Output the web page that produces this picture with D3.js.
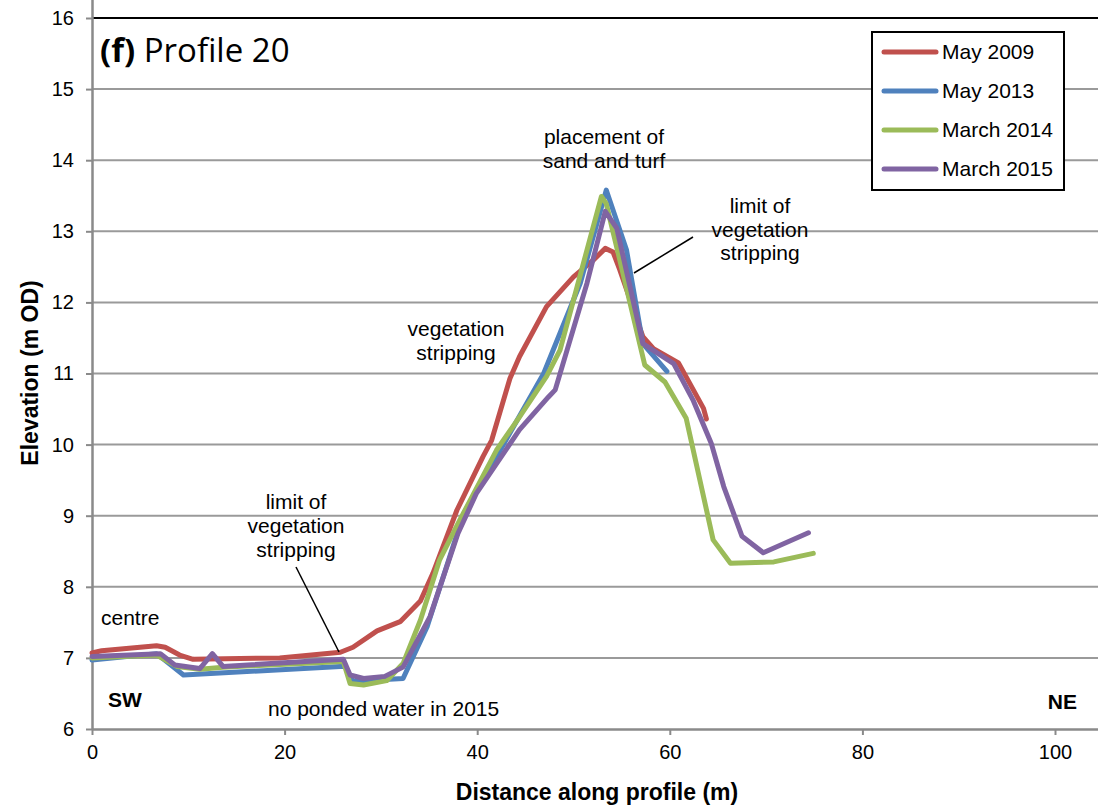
<!DOCTYPE html>
<html><head><meta charset="utf-8">
<script src="https://cdn.jsdelivr.net/npm/d3@7"></script>
<style>body{margin:0;background:#fff}svg{display:block}</style>
</head><body>
<svg id="c" width="1098" height="806"></svg>
<script>
const seriesNames = ["May 2009", "May 2013", "March 2014", "March 2015"];
const seriesColors = ["#C0504D", "#4F81BD", "#9BBB59", "#8064A2"];
const may2009 = [[0,7.07],[1,7.1],[6.7,7.17],[7.6,7.15],[9.1,7.04],[10.5,6.98],[19.5,7.0],[25.8,7.08],[27.1,7.15],[29.6,7.38],[32,7.51],[34.1,7.8],[35.4,8.19],[37.9,9.08],[40.6,9.83],[41.5,10.06],[43.4,10.93],[44.4,11.24],[47.2,11.94],[50,12.36],[52.1,12.6],[53.3,12.76],[54.1,12.71],[54.8,12.46],[57.2,11.52],[58.3,11.35],[60.9,11.15],[63.5,10.51],[63.8,10.36]];
const may2013 = [[0,6.97],[6.7,7.06],[9.5,6.76],[25.8,6.88],[26.3,6.88],[27.1,6.67],[32.3,6.71],[34.8,7.44],[38.6,9.03],[42,9.83],[46.9,11.0],[50.7,12.27],[53.4,13.58],[55.5,12.74],[57.2,11.42],[59.7,11.03]];
const march2014 = [[0,7.0],[6.7,7.04],[8.8,6.88],[11.2,6.84],[13.6,6.87],[26.1,6.95],[26.8,6.64],[28.2,6.62],[30.6,6.68],[32.3,6.92],[34.1,7.53],[36.1,8.38],[38.2,8.94],[42,9.92],[44.4,10.39],[47.2,10.96],[48.6,11.33],[52.9,13.49],[53.4,13.39],[54.8,12.6],[57.4,11.12],[59.5,10.88],[61.7,10.37],[64.5,8.66],[66.3,8.33],[70.8,8.35],[74.9,8.47]];
const march2015 = [[0,7.02],[7.1,7.06],[8.6,6.9],[11.2,6.85],[12.5,7.06],[13.6,6.88],[26.1,6.98],[26.8,6.76],[28.2,6.71],[30.4,6.74],[32.3,6.87],[35.1,7.58],[38.0,8.75],[39.9,9.31],[44.4,10.21],[47.4,10.67],[48.1,10.77],[51.4,12.27],[53.3,13.28],[54.5,13.04],[57.2,11.42],[60.4,11.14],[62.4,10.63],[64.3,10.02],[65.6,9.41],[67.5,8.71],[69.7,8.48],[74.4,8.76]];
const xTicks = [0,20,40,60,80,100];
const yTicks = [6,7,8,9,10,11,12,13,14,15,16];
const seriesData = [may2009, may2013, march2014, march2015];

const svg = d3.select("#c");
const x = d3.scaleLinear().domain([0,100]).range([92,1055]);
const y = d3.scaleLinear().domain([6,16]).range([729,18]);
const F = "Arial, 'Liberation Sans', sans-serif";

// gridlines
svg.append("g").selectAll("line").data(yTicks.filter(d=>d>6 && d<16)).join("line")
  .attr("x1",92).attr("x2",1098).attr("y1",d=>y(d)).attr("y2",d=>y(d))
  .attr("stroke","#9a9a9a").attr("stroke-width",2);
// top border
svg.append("line").attr("x1",92).attr("x2",1098).attr("y1",y(16)).attr("y2",y(16)).attr("stroke","#000").attr("stroke-width",2);

// axes
const yAxis = svg.append("g").attr("transform","translate(92,0)")
  .call(d3.axisLeft(y).tickValues(yTicks).tickSize(6).tickPadding(12).tickFormat(d3.format("d")));
const xAxis = svg.append("g").attr("transform",`translate(0,${y(6)})`)
  .call(d3.axisBottom(x).tickValues(xTicks).tickSize(6).tickPadding(10).tickFormat(d3.format("d")));
[yAxis,xAxis].forEach(a=>{
  a.select(".domain").attr("stroke","#8a8a8a").attr("stroke-width",2.5);
  a.selectAll(".tick line").attr("stroke","#8a8a8a").attr("stroke-width",2);
  a.selectAll("text").attr("font-family",F).attr("font-size",20).attr("fill","#000");
});
xAxis.select(".domain").attr("d","M92,0.5H1098");
yAxis.select(".domain").attr("d","M0.5,0V729");

// series lines
const line = d3.line().x(d=>x(d[0])).y(d=>y(d[1]));
seriesData.forEach((s,i)=>{
  svg.append("path").datum(s).attr("d",line).attr("fill","none")
    .attr("stroke",seriesColors[i]).attr("stroke-width",5)
    .attr("stroke-linejoin","round").attr("stroke-linecap","round");
});

// annotations
function txt(xp,yp,t,opts={}){
  return svg.append("text").attr("x",xp).attr("y",yp).text(t)
    .attr("font-family",F).attr("font-size",opts.size||21)
    .attr("font-weight",opts.weight||"normal")
    .attr("text-anchor",opts.anchor||"middle").attr("fill","#000");
}
txt(604,144,"placement of"); txt(604,168,"sand and turf");
txt(760,213,"limit of"); txt(760,237,"vegetation"); txt(760,260,"stripping");
txt(456,336,"vegetation"); txt(456,360,"stripping");
txt(296,509,"limit of"); txt(296,533,"vegetation"); txt(296,557,"stripping");
txt(101,625,"centre",{anchor:"start"});
txt(108,707,"SW",{anchor:"start",weight:"bold"});
txt(268,716,"no ponded water in 2015",{anchor:"start"});
txt(1077,709,"NE",{anchor:"end",weight:"bold"});
svg.append("line").attr("x1",693).attr("y1",237).attr("x2",634).attr("y2",273).attr("stroke","#000").attr("stroke-width",1.5);
svg.append("line").attr("x1",296).attr("y1",567).attr("x2",339).attr("y2",652).attr("stroke","#000").attr("stroke-width",1.5);

// title
const t = svg.append("text").attr("x",100).attr("y",62).attr("font-family","'Open Sans', 'Noto Sans', sans-serif").attr("font-size",33).attr("fill","#000");
t.append("tspan").attr("font-weight","bold").text("(f)");
t.append("tspan").text(" Profile 20");

// axis titles
svg.append("text").attr("transform","translate(38,373) rotate(-90)").attr("text-anchor","middle")
  .attr("font-family",F).attr("font-size",23).attr("font-weight","bold").text("Elevation (m OD)");
svg.append("text").attr("x",597).attr("y",800).attr("text-anchor","middle")
  .attr("font-family",F).attr("font-size",23).attr("font-weight","bold").text("Distance along profile (m)");

// legend
const lg = svg.append("g");
lg.append("rect").attr("x",872).attr("y",32).attr("width",192).attr("height",158)
  .attr("fill","#fff").attr("stroke","#000").attr("stroke-width",2);
seriesNames.forEach((n,i)=>{
  const yy = 52 + i*39;
  lg.append("line").attr("x1",884).attr("x2",936).attr("y1",yy).attr("y2",yy)
    .attr("stroke",seriesColors[i]).attr("stroke-width",5).attr("stroke-linecap","round");
  lg.append("text").attr("x",942).attr("y",yy+7).attr("font-family",F).attr("font-size",21).text(n);
});
</script>
</body></html>
